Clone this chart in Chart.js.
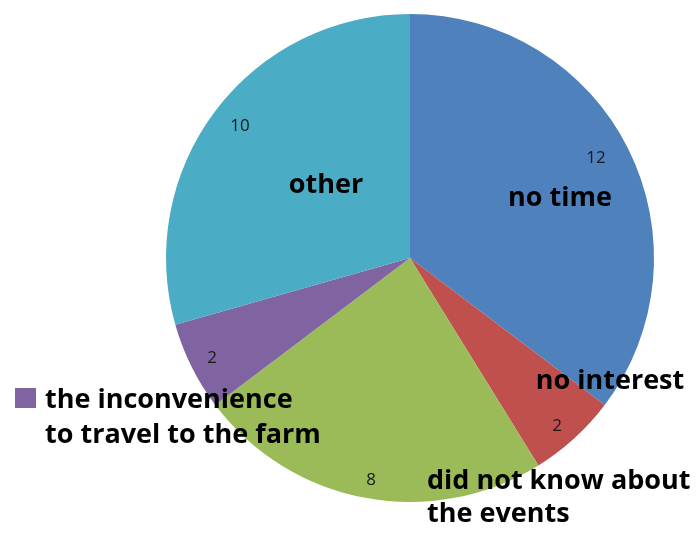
<!DOCTYPE html>
<html><head><meta charset="utf-8">
<script src="https://cdn.jsdelivr.net/npm/chart.js@4.4.1/dist/chart.umd.min.js"></script>
<style>html,body{margin:0;padding:0;background:#fff;}#wrap{width:697px;height:534px;}</style>
</head><body><div id="wrap"><canvas id="c" width="697" height="534"></canvas></div>
<script>
const categories = ["no time", "no interest", "did not know about the events", "the inconvenience to travel to the farm", "other"];
const values = [12, 2, 8, 2, 10];
const colors = ["#4F81BD", "#C0504D", "#9BBB59", "#8064A2", "#4BACC6"];
// category names split into display lines
const nameLines = [["no time"], ["no interest"], ["did not know about", "the events"], ["the inconvenience", "to travel to the farm"], ["other"]];
// annotation layout (baseline positions)
const nameLayout = [
  {x: 560, y: 206, align: "center"},
  {x: 610, y: 389, align: "center"},
  {x: 427, y: 489, align: "left", lh: 33},
  {x: 45, y: 408, align: "left", lh: 35, key: true},
  {x: 326, y: 193, align: "center"}
];
const valueLayout = [
  {x: 596, y: 158}, {x: 557, y: 426}, {x: 371, y: 480}, {x: 212, y: 358}, {x: 240, y: 126}
];

const labelPlugin = {
  id: "labels",
  afterDatasetsDraw(chart) {
    const ctx = chart.ctx;
    ctx.save();
    ctx.fillStyle = "#1a1a1a";
    ctx.font = "17px 'Open Sans'";
    ctx.textAlign = "center";
    ctx.textBaseline = "middle";
    values.forEach((v, i) => ctx.fillText(String(v), valueLayout[i].x, valueLayout[i].y));
    ctx.textBaseline = "alphabetic";
    ctx.fillStyle = "#000";
    ctx.font = "bold 27px 'Open Sans'";
    nameLines.forEach((lines, i) => {
      const L = nameLayout[i];
      ctx.textAlign = L.align;
      lines.forEach((t, j) => ctx.fillText(t, L.x, L.y + j * (L.lh || 0)));
      if (L.key) {
        ctx.fillStyle = colors[i];
        ctx.fillRect(15, 388, 21, 20);
        ctx.fillStyle = "#000";
      }
    });
    ctx.restore();
  }
};

new Chart(document.getElementById("c"), {
  type: "pie",
  data: { labels: categories, datasets: [{ data: values, backgroundColor: colors, borderWidth: 0 }] },
  options: {
    responsive: false, animation: false,
    layout: { padding: { left: 166, right: 43, top: 14, bottom: 32 } },
    plugins: { legend: { display: false }, tooltip: { enabled: false } }
  },
  plugins: [labelPlugin]
});
</script></body></html>
